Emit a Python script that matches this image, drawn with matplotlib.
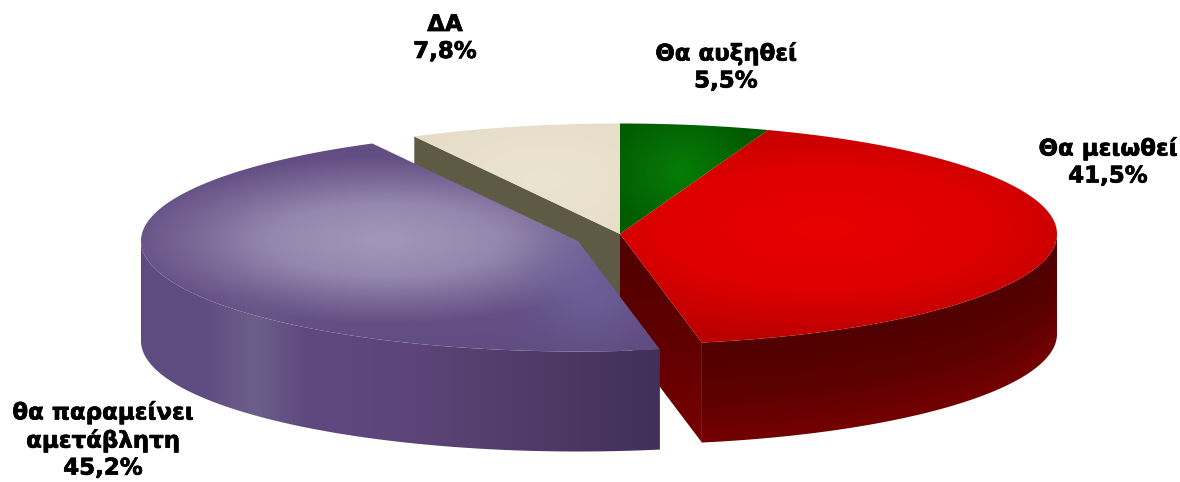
import numpy as np
import matplotlib
matplotlib.use("Agg")
import matplotlib.pyplot as plt
import matplotlib.patheffects as pe
from matplotlib.colors import to_rgb
from matplotlib.patches import Polygon

categories = ["Θα αυξηθεί", "Θα μειωθεί", "θα παραμείνει\nαμετάβλητη", "ΔΑ"]
values = [5.5, 41.5, 45.2, 7.8]
value_labels = ["5,5%", "41,5%", "45,2%", "7,8%"]

W, H = 1180, 482
RX, RY, DEPTH = 437.0, 110.5, 100.0
CENTER = (620.0, 234.0)
PURPLE_CENTER = (578.0, 241.0)
LABEL_POS = [(726, 67), (1108, 162), (103, 440), (445, 38)]

fig = plt.figure(figsize=(W / 100, H / 100), dpi=100)
ax = fig.add_axes([0, 0, 1, 1])
ax.set_axis_off()

yy, xx = np.mgrid[0.5:H, 0.5:W]


def shade(t, stops):
    pos = [s[0] for s in stops]
    cols = np.array([to_rgb(s[1]) for s in stops])
    return np.dstack([np.interp(t, pos, cols[:, i]) for i in range(3)])


def radial(cx, cy, a, b):
    return np.sqrt(((xx - cx) / a) ** 2 + ((yy - cy) / b) ** 2)


def arc(center, a0, a1, dy=0.0, n=240):
    th = np.radians(np.linspace(a0, a1, n))
    return np.column_stack([center[0] + RX * np.sin(th), center[1] - RY * np.cos(th) + dy])


def paint(img, pts, z):
    im = ax.imshow(img, extent=(0, W, H, 0), aspect="auto", zorder=z, interpolation="bilinear")
    poly = Polygon(pts, closed=True, transform=ax.transData, facecolor="none", edgecolor="none")
    ax.add_patch(poly)
    im.set_clip_path(poly)


edges = np.concatenate([[0], np.cumsum(values)]) * 3.6
green = (edges[0], edges[1])
red = (edges[1], edges[2])
purple = (edges[2], edges[3])
beige = (edges[3], edges[4])
cx, cy = CENTER
px, py = PURPLE_CENTER

# beige cut wall
rim_b = arc(CENTER, beige[0], beige[0], n=1)[0]
paint(shade(np.zeros_like(xx), [(0, "#5f5a44"), (1, "#5f5a44")]),
      [(cx, cy), rim_b, (rim_b[0], rim_b[1] + DEPTH), (cx, cy + DEPTH)], 1)

# beige top
t = radial(545, 180, 190, 95)
paint(shade(t, [(0, "#ebe4d0"), (0.6, "#e8dfca"), (1.0, "#e2d6c1"), (2, "#dccfb9")]),
      np.vstack([[CENTER], arc(CENTER, beige[0], beige[1])]), 2)

# green top
t = radial(682, 172, 75, 65)
paint(shade(t, [(0, "#067c06"), (0.5, "#056c05"), (1.0, "#005c00"), (2, "#005400")]),
      np.vstack([[CENTER], arc(CENTER, green[0], green[1])]), 2)

# red walls
rim_r = arc(CENTER, red[1], red[1], n=1)[0]
paint(shade(np.clip((yy - 234) / 211, 0, 1), [(0, "#4e0000"), (0.5, "#600000"), (1, "#780000")]),
      [(cx, cy), rim_r, (rim_r[0], rim_r[1] + DEPTH), (cx, cy + DEPTH)], 2)
u = np.clip((xx - cx) / RX, -1, 1)
v = (yy - (cy + RY * np.sqrt(1 - u ** 2))) / DEPTH
paint(shade(v, [(0, "#500000"), (0.5, "#5c0000"), (1, "#740000")]),
      np.vstack([arc(CENTER, 90, red[1]), arc(CENTER, red[1], 90, dy=DEPTH)]), 3)

# red top
t = radial(825, 228, 300, 112)
paint(shade(t, [(0, "#e80000"), (0.55, "#de0000"), (1.0, "#bc0000"), (1.5, "#b40000")]),
      np.vstack([[CENTER], arc(CENTER, red[0], red[1])]), 4)

# purple wall
paint(shade(xx, [(141, "#5e4b80"), (205, "#5f4c80"), (255, "#6e5e8b"), (305, "#5e497e"),
                 (420, "#5c4478"), (500, "#523e6b"), (600, "#47355f"), (660, "#41305a")]),
      np.vstack([arc(PURPLE_CENTER, purple[0], 270), arc(PURPLE_CENTER, 270, purple[0], dy=DEPTH)]), 5)

# purple top
t = radial(385, 240, 225, 72)
img = shade(t, [(0, "#a596ba"), (0.5, "#9687af"), (0.85, "#7a6897"), (1.15, "#644f84"), (2, "#5e4b80")])
blue = np.exp(-(((xx - 590) / 50) ** 2 + ((yy - 290) / 45) ** 2))[..., None]
img = img * (1 - 0.7 * blue) + np.array(to_rgb("#6f63a0")) * 0.7 * blue
band = (np.exp(-((xx - 255) / 32) ** 2) * np.clip((yy - 285) / 40, 0, 1))[..., None]
img = img * (1 - 0.6 * band) + np.array(to_rgb("#6e5e8b")) * 0.6 * band
paint(img, np.vstack([[PURPLE_CENTER], arc(PURPLE_CENTER, purple[0], purple[1])]), 6)

# labels
for cat, lab, (lx, ly) in zip(categories, value_labels, LABEL_POS):
    ax.text(lx, ly, f"{cat}\n{lab}", ha="center", va="center", fontsize=16.5,
            fontweight="bold", family="DejaVu Sans", color="black", linespacing=1.22, zorder=10,
            path_effects=[pe.withStroke(linewidth=0.5, foreground="black")])

ax.set_xlim(0, W)
ax.set_ylim(H, 0)
fig.savefig("out.png", dpi=100, facecolor="white")
